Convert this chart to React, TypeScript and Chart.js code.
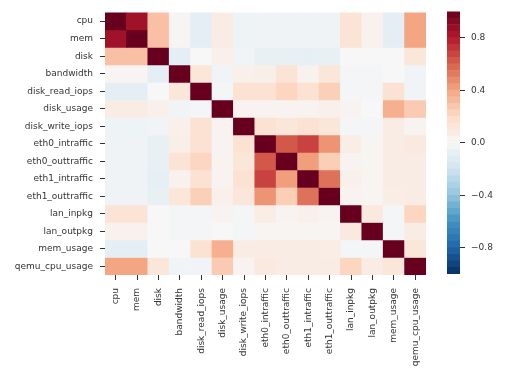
import React, { useEffect, useRef } from "react";
import { Chart, registerables } from "chart.js";

Chart.register(...registerables);

const names = [
  "cpu", "mem", "disk", "bandwidth", "disk_read_iops", "disk_usage", "disk_write_iops",
  "eth0_intraffic", "eth0_outtraffic", "eth1_intraffic", "eth1_outtraffic",
  "lan_inpkg", "lan_outpkg", "mem_usage", "qemu_cpu_usage",
];

const rowCpu = [1, 0.85, 0.3, 0.02, -0.1, 0.08, -0.05, -0.04, -0.04, -0.04, -0.04, 0.14, 0.04, -0.1, 0.4];
const rowMem = [0.85, 1, 0.3, 0.02, -0.1, 0.08, -0.05, -0.04, -0.04, -0.04, -0.04, 0.14, 0.04, -0.1, 0.4];
const rowDisk = [0.3, 0.3, 1, -0.1, 0.0, 0.05, -0.03, -0.08, -0.08, -0.09, -0.08, 0.0, 0.0, 0.0, 0.12];
const rowBandwidth = [0.02, 0.02, -0.1, 1, 0.12, -0.03, 0.05, 0.06, 0.14, 0.04, 0.12, -0.02, -0.02, 0.0, -0.03];
const rowDiskRead = [-0.1, -0.1, 0.0, 0.12, 1, -0.02, 0.15, 0.15, 0.22, 0.15, 0.24, -0.02, -0.02, 0.15, -0.03];
const rowDiskUsage = [0.08, 0.08, 0.05, -0.03, -0.02, 1, 0.03, 0.03, 0.03, 0.03, 0.05, 0.03, 0.0, 0.36, 0.26];
const rowDiskWrite = [-0.05, -0.05, -0.03, 0.05, 0.15, 0.03, 1, 0.15, 0.12, 0.15, 0.12, -0.02, -0.02, 0.08, 0.03];
const rowEth0In = [-0.04, -0.04, -0.08, 0.06, 0.15, 0.03, 0.15, 1, 0.62, 0.68, 0.45, 0.07, 0.02, 0.08, 0.1];
const rowEth0Out = [-0.04, -0.04, -0.08, 0.14, 0.22, 0.03, 0.12, 0.62, 1, 0.42, 0.25, 0.03, 0.02, 0.08, 0.08];
const rowEth1In = [-0.04, -0.04, -0.09, 0.04, 0.15, 0.03, 0.15, 0.68, 0.42, 1, 0.55, 0.05, 0.02, 0.08, 0.08];
const rowEth1Out = [-0.04, -0.04, -0.08, 0.12, 0.24, 0.05, 0.12, 0.45, 0.25, 0.55, 1, 0.03, 0.02, 0.07, 0.08];
const rowLanIn = [0.14, 0.14, 0.0, -0.02, -0.02, 0.03, -0.02, 0.07, 0.03, 0.05, 0.03, 1, 0.1, -0.02, 0.22];
const rowLanOut = [0.04, 0.04, 0.0, -0.02, -0.02, 0.0, -0.02, 0.02, 0.02, 0.02, 0.02, 0.1, 1, -0.02, 0.08];
const rowMemUsage = [-0.1, -0.1, 0.0, 0.0, 0.15, 0.36, 0.08, 0.08, 0.08, 0.08, 0.07, -0.02, -0.02, 1, 0.12];
const rowQemu = [0.4, 0.4, 0.12, -0.03, -0.03, 0.26, 0.03, 0.1, 0.08, 0.08, 0.08, 0.22, 0.08, 0.12, 1];

const corr = [
  rowCpu, rowMem, rowDisk, rowBandwidth, rowDiskRead, rowDiskUsage, rowDiskWrite,
  rowEth0In, rowEth0Out, rowEth1In, rowEth1Out, rowLanIn, rowLanOut, rowMemUsage, rowQemu,
];

const colorbarTicks = [-0.8, -0.4, 0, 0.4, 0.8];

const RDBU_R = ["#053061", "#2166ac", "#4393c3", "#92c5de", "#d1e5f0", "#f7f7f7", "#fddbc7", "#f4a582", "#d6604d", "#b2182b", "#67001f"];

function hexToRgb(h: string) {
  return [parseInt(h.slice(1, 3), 16), parseInt(h.slice(3, 5), 16), parseInt(h.slice(5, 7), 16)];
}

function colorOf(v: number) {
  const t = Math.max(0, Math.min(1, (v + 1) / 2)) * (RDBU_R.length - 1);
  const i = Math.min(RDBU_R.length - 2, Math.floor(t));
  const f = t - i;
  const a = hexToRgb(RDBU_R[i]);
  const b = hexToRgb(RDBU_R[i + 1]);
  const c = a.map((x, k) => Math.round(x + (b[k] - x) * f));
  return `rgb(${c[0]},${c[1]},${c[2]})`;
}

const FONT = { family: "'DejaVu Sans', sans-serif", size: 9 };
const TEXT = "#333333";

export default function App() {
  const mainRef = useRef<HTMLCanvasElement>(null);
  const barRef = useRef<HTMLCanvasElement>(null);

  useEffect(() => {
    const datasets = names.map((rowName, j) => ({
      label: rowName,
      data: names.map(() => [j - 0.5, j + 0.5]),
      backgroundColor: corr[j].map(colorOf),
      borderWidth: 0,
      grouped: false,
      barPercentage: 1,
      categoryPercentage: 1,
    }));

    const main = new Chart(mainRef.current!, {
      type: "bar",
      data: { labels: names, datasets: datasets as any },
      options: {
        animation: false,
        responsive: false,
        devicePixelRatio: 1,
        layout: { padding: { top: 5, right: 14, left: 0, bottom: 0 } },
        plugins: { legend: { display: false }, tooltip: { enabled: false } },
        scales: {
          x: {
            type: "category",
            offset: true,
            grid: { display: true, offset: false, drawOnChartArea: false, drawTicks: true, tickLength: 5, color: TEXT },
            border: { display: false },
            ticks: { autoSkip: false, minRotation: 90, maxRotation: 90, padding: 8, font: FONT, color: TEXT },
            afterFit: (s: any) => { s.height = 99; },
          },
          y: {
            type: "linear",
            reverse: true,
            min: -0.5,
            max: 14.5,
            grid: { display: true, drawOnChartArea: false, drawTicks: true, tickLength: 5, color: TEXT },
            border: { display: false },
            afterBuildTicks: (s: any) => { s.ticks = names.map((_, i) => ({ value: i })); },
            ticks: {
              autoSkip: false,
              padding: 7,
              font: FONT,
              color: TEXT,
              callback: (v: any) => names[v as number] ?? "",
            },
            afterFit: (s: any) => { s.width = 105; },
          },
        },
      } as any,
    });

    const N = 40;
    const barSets = Array.from({ length: N }, (_, k) => {
      const lo = -1 + (2 * k) / N;
      const hi = -1 + (2 * (k + 1)) / N;
      return {
        label: "c" + k,
        data: [[lo, hi]],
        backgroundColor: colorOf((lo + hi) / 2),
        borderWidth: 0,
        grouped: false,
        barPercentage: 1,
        categoryPercentage: 1,
      };
    });

    const bar = new Chart(barRef.current!, {
      type: "bar",
      data: { labels: [""], datasets: barSets as any },
      options: {
        animation: false,
        responsive: false,
        devicePixelRatio: 1,
        layout: { padding: { top: 5, right: 0, left: 7, bottom: 100 } },
        plugins: { legend: { display: false }, tooltip: { enabled: false } },
        scales: {
          x: { display: false },
          y: {
            type: "linear",
            position: "right",
            min: -1,
            max: 1,
            grid: { display: true, drawOnChartArea: false, drawTicks: true, tickLength: 5, color: TEXT },
            border: { display: false },
            afterBuildTicks: (s: any) => { s.ticks = colorbarTicks.map((v) => ({ value: v })); },
            ticks: {
              padding: 6,
              font: FONT,
              color: TEXT,
              callback: (v: any) => {
                const n = Number(v);
                const s = Math.abs(n).toFixed(1);
                return n < -1e-9 ? "\u2212" + s : s;
              },
            },
            afterFit: (s: any) => { s.width = 70; },
          },
        },
      } as any,
    });

    return () => {
      main.destroy();
      bar.destroy();
    };
  }, []);

  return (
    <div style={{ position: "fixed", left: 0, top: 0, width: 530, height: 374, background: "#fff" }}>
      <canvas ref={mainRef} width={440} height={374} style={{ position: "absolute", left: 0, top: 0, width: 440, height: 374 }} />
      <canvas ref={barRef} width={90} height={374} style={{ position: "absolute", left: 440, top: 0, width: 90, height: 374 }} />
    </div>
  );
}
